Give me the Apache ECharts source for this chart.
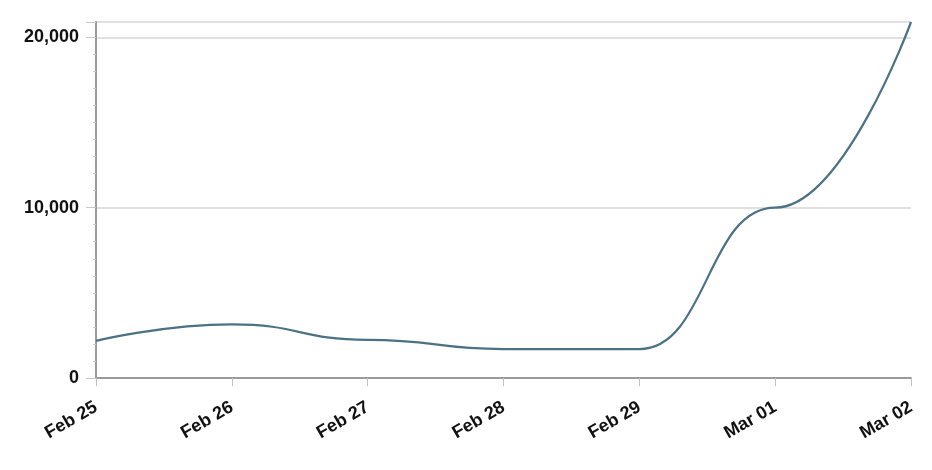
<!DOCTYPE html>
<html>
<head>
<meta charset="utf-8">
<script src="https://cdn.jsdelivr.net/npm/echarts@6/dist/echarts.min.js"></script>
<style>html,body{margin:0;padding:0;background:#fff}#c{width:932px;height:470px}</style>
</head>
<body>
<div id="c"></div>
<script>
const categories = ['Feb 25', 'Feb 26', 'Feb 27', 'Feb 28', 'Feb 29', 'Mar 01', 'Mar 02'];
const values = [2180, 3150, 2240, 1700, 1700, 10000, 20900];
const yTicks = [0, 10000, 20000];

const chart = echarts.init(document.getElementById('c'));
chart.setOption({
  animation: false,
  grid: { left: 96, right: 21, top: 22, bottom: 92 },
  xAxis: {
    type: 'category',
    data: categories,
    boundaryGap: false,
    axisLine: { lineStyle: { color: '#9a9a9a', width: 2 } },
    axisTick: { alignWithLabel: true, length: 8, lineStyle: { color: '#c0c0c0' } },
    axisLabel: {
      rotate: 30, margin: 28, color: '#111', fontWeight: 'bold',
      fontSize: 18, fontFamily: 'Liberation Sans, Arial, sans-serif', interval: 0
    }
  },
  yAxis: {
    type: 'value',
    min: 0,
    max: 'dataMax',
    interval: 10000,
    axisLine: { show: true, lineStyle: { color: '#9a9a9a', width: 2 } },
    axisTick: { show: true, length: 10, lineStyle: { color: '#c8c8c8' } },
    minorTick: { show: true, splitNumber: 10, length: 3, lineStyle: { color: '#c8c8c8' } },
    splitLine: { lineStyle: { color: '#d6d6d6', width: 1.5 } },
    axisLabel: {
      color: '#111', fontWeight: 'bold', fontSize: 18, margin: 17,
      fontFamily: 'Liberation Sans, Arial, sans-serif',
      formatter: v => yTicks.includes(v) ? v.toLocaleString('en-US') : ''
    }
  },
  series: [{
    type: 'line',
    data: values,
    smooth: 0.5,
    smoothMonotone: 'x',
    showSymbol: false,
    lineStyle: { color: '#4b7185', width: 2.2 },
    itemStyle: { color: '#4b7185' }
  }]
});
</script>
</body>
</html>
